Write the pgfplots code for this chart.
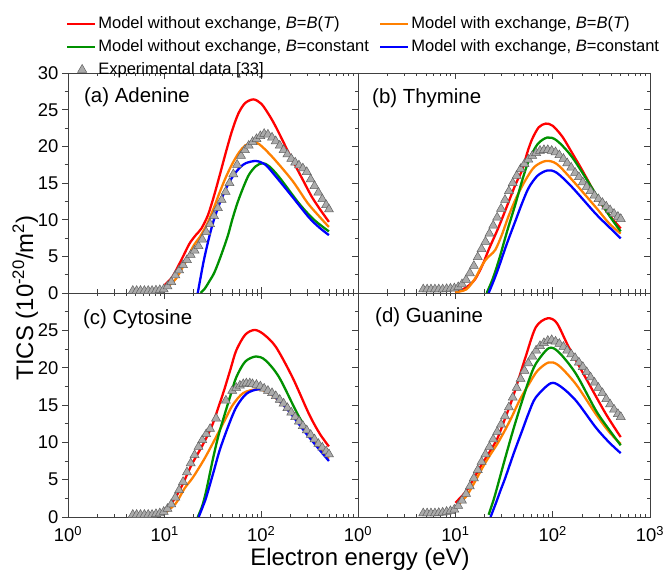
\documentclass[border=0pt]{standalone}
\usepackage{fontspec}
\setmainfont{Liberation Sans}
\usepackage{pgfplots}
\pgfplotsset{compat=1.18}

\definecolor{cred}{RGB}{255,0,0}
\definecolor{corange}{RGB}{255,128,0}
\definecolor{cgreen}{RGB}{0,145,0}
\definecolor{cblue}{RGB}{0,0,255}

\pgfplotsset{
  xmin=1, xmax=1000, ymin=0, ymax=30,
  scale only axis,
  xtick={1,10,100,1000},
  minor xtick={2,3,4,5,6,7,8,9,20,30,40,50,60,70,80,90,200,300,400,500,600,700,800,900},
  ytick={0,5,10,15,20,25,30},
  minor ytick={2.5,7.5,12.5,17.5,22.5,27.5},
  major tick length=6bp, minor tick length=3.5bp,
  axis line style={black!75, line width=0.8bp},
  tick style={black!75, line width=0.8bp},
  tick label style={font=\fontsize{18.5}{20}\selectfont},
  texplegimg/.style={legend image code/.code={\draw[##1] plot coordinates {(15bp,0bp)};}},
  tlinelegimg/.style={legend image code/.code={\draw[##1] (0bp,0bp) -- (28bp,0bp);}},
}
\tikzset{
  tcurve/.style={line width=2.3bp, smooth, mark=none},
  texpm/.style={only marks, mark=triangle*, mark size=5.2bp,
    mark options={fill=black!33, draw=black!62, line width=0.5bp}},
  plab/.style={anchor=west, inner sep=0pt, font=\fontsize{20.5}{22}\selectfont},
}

\begin{document}
\begin{tikzpicture}
\path[use as bounding box] (-68bp,-54bp) rectangle (597bp,517bp);

% ---------- (c) bottom-left ----------
\begin{semilogxaxis}[at={(0bp,0bp)}, anchor=south west, height=224bp, width=290bp,
  tick align=inside, xtick pos=both, ytick pos=right, yticklabels={},
  xticklabel style={yshift=-6bp},
  xticklabels={10\textsuperscript{0},10\textsuperscript{1},10\textsuperscript{2},{}}]
\addplot[texpm] coordinates {(4.68,0.3)(5.13,0.3)(5.62,0.3)(6.17,0.3)(6.76,0.3)(7.41,0.3)(8.13,0.4)(8.91,0.5)(9.77,0.7)(10.7,1.1)(11.7,1.7)(12.9,2.6)(14.1,3.6)(15.5,4.7)(17.0,6.0)(18.6,7.2)(20.4,8.3)(22.4,9.4)(24.5,10.3)(26.9,11.1)(29.5,11.8)(34,13.2)(43,15.6)(50,16.9)(55,17.3)(60,17.6)(65,17.8)(70,17.9)(76,17.9)(81,17.8)(89,17.7)(97.7,17.5)(107,17.2)(117,16.9)(129,16.6)(141,16.2)(155,15.7)(170,15.2)(186,14.6)(204,14.0)(224,13.4)(245,12.8)(269,12.2)(295,11.6)(324,11.0)(355,10.4)(389,9.8)(427,9.3)(468,8.8)(501,8.4)};
\addplot[tcurve, cred] coordinates {(10,0.9)(12,2.0)(13.5,3.0)(15.5,4.5)(19,7.0)(23,8.9)(27,10.6)(31.5,12.5)(36,14.7)(41,16.9)(48,19.8)(55,22.3)(68,24.4)(85,25.05)(105,24.5)(141,22.8)(210,18.7)(311,13.8)(400,11.2)(500,9.45)};
\addplot[tcurve, corange] coordinates {(10,0.5)(13,1.8)(16,3.8)(19.6,5.3)(25,7.5)(29,9.0)(34,10.7)(42,13.0)(50.6,15.0)(65,16.6)(91,17.1)(120,16.6)(178,14.7)(286,11.6)(400,9.2)(500,7.8)};
\addplot[tcurve, cgreen] coordinates {(22,0)(24.5,1.5)(27,3.6)(31.6,7.8)(36,10.9)(41,13.4)(48,16.3)(55,18.7)(68,20.8)(88,21.5)(110,21.0)(153,18.7)(246,13.4)(350,10.5)(500,8.5)};
\addplot[tcurve, cblue] coordinates {(22.5,0)(25,1.5)(27,2.7)(32,6.0)(37,8.9)(45,12.0)(55,14.7)(70,16.5)(93,17.1)(120,16.7)(178,14.7)(286,11.3)(400,9.0)(500,7.5)};
\node[plab] at ([xshift=15bp,yshift=-26bp]rel axis cs:0,1) {(c) Cytosine};
\end{semilogxaxis}
\begin{semilogxaxis}[at={(0bp,0bp)}, anchor=south west, height=224bp, width=290bp,
  hide x axis, tick align=outside, ytick pos=left,
  yticklabels={0,5,10,15,20,25,{}}]
\addplot[draw=none] coordinates {(2,1)};
\end{semilogxaxis}

% ---------- (a) top-left ----------
\begin{semilogxaxis}[at={(0bp,224bp)}, anchor=south west, height=220bp, width=290bp,
  tick align=inside, xtick pos=both, ytick pos=right, yticklabels={}, xticklabels={},
  legend columns=2, legend cell align=left,
  legend style={draw=none, fill=none, inner sep=0pt, outer sep=0pt,
    font=\fontsize{16.6}{18}\selectfont,
    at={(0,1)}, anchor=north west, xshift=-2bp, yshift=58bp,
    /tikz/every even column/.append style={column sep=8bp},
    row sep=5.5bp}]
\addplot[texpm, forget plot] coordinates {(4.68,0.3)(5.13,0.3)(5.62,0.3)(6.17,0.3)(6.76,0.3)(7.41,0.3)(8.13,0.35)(8.91,0.4)(9.77,0.5)(10.7,0.9)(11.7,1.5)(12.9,2.4)(14.1,3.1)(15.5,3.8)(17.0,4.5)(18.6,5.2)(20.4,5.8)(22.4,6.4)(24.5,7.3)(26.9,8.3)(29.5,9.4)(32.4,10.5)(35.5,11.6)(38.9,12.7)(42.7,13.8)(46.8,15.0)(51.3,16.2)(56.2,17.5)(61.7,18.7)(67.6,19.5)(74.1,20.1)(81.3,20.6)(89.1,21.0)(97.7,21.4)(107,21.7)(117,21.6)(129,21.2)(141,20.7)(155,20.1)(170,19.5)(186,18.9)(204,18.3)(224,17.8)(245,17.4)(269,17.0)(295,16.5)(324,15.5)(355,14.6)(389,13.7)(427,12.8)(468,12.0)(501,11.4)};
\addplot[tcurve, cred, tlinelegimg] coordinates {(10,1.1)(12,2.2)(15,4.6)(18,6.7)(21,7.9)(24,8.8)(28,10.6)(32,13.0)(37,16.0)(43,19.2)(50,22.2)(58,24.5)(68,25.9)(83,26.4)(100,25.8)(120,24.3)(142,22.6)(194,19.0)(267,15.5)(330,13.2)(400,11.5)(500,9.7)};
\addlegendentry{Model without exchange, \textit{B}=\textit{B}(\textit{T})}
\addplot[tcurve, corange, tlinelegimg] coordinates {(10,0.5)(13,1.9)(16.7,4.4)(20,6.5)(23,7.6)(27,9.2)(31.6,11.3)(37,13.7)(43,15.8)(50,17.6)(59,19.2)(68,20.1)(80,20.5)(95,20.3)(131,18.5)(210,15.3)(300,12.3)(400,10.4)(500,9.0)};
\addlegendentry{Model with exchange, \textit{B}=\textit{B}(\textit{T})}
\addplot[tcurve, cgreen, tlinelegimg] coordinates {(23.5,0)(26,0.6)(29,1.6)(32.7,2.8)(38,5.0)(45,7.8)(50,10.0)(57,12.4)(66,14.6)(75,16.2)(88,17.3)(103,17.7)(120,17.3)(153,15.8)(246,12.2)(350,10.0)(500,8.4)};
\addlegendentry{Model without exchange, \textit{B}=constant}
\addplot[tcurve, cblue, tlinelegimg] coordinates {(22,0)(25.2,4.2)(28.6,7.4)(32,9.8)(37,12.2)(43,14.2)(50.6,15.9)(60,17.1)(69,17.7)(88,18.0)(110,17.5)(141,15.9)(210,13.1)(311,10.3)(400,8.9)(500,7.9)};
\addlegendentry{Model with exchange, \textit{B}=constant}
\addlegendimage{texpm, texplegimg}
\addlegendentry{Experimental data [33]}
\node[plab] at ([xshift=16bp,yshift=-24bp]rel axis cs:0,1) {(a) Adenine};
\end{semilogxaxis}
\begin{semilogxaxis}[at={(0bp,224bp)}, anchor=south west, height=220bp, width=290bp,
  hide x axis, tick align=outside, ytick pos=left,
  yticklabels={0,5,10,15,20,25,30}]
\addplot[draw=none] coordinates {(2,1)};
\end{semilogxaxis}

% ---------- (d) bottom-right ----------
\begin{semilogxaxis}[at={(290bp,0bp)}, anchor=south west, height=224bp, width=292bp,
  tick align=inside, xtick pos=both, ytick pos=right, yticklabels={},
  xticklabel style={yshift=-6bp},
  xticklabels={10\textsuperscript{0},10\textsuperscript{1},10\textsuperscript{2},10\textsuperscript{3}}]
\addplot[texpm] coordinates {(4.68,0.5)(5.13,0.5)(5.62,0.5)(6.17,0.5)(6.76,0.55)(7.41,0.6)(8.13,0.7)(8.91,0.8)(9.77,1.0)(10.7,1.5)(11.7,2.2)(12.9,3.1)(14.1,4.1)(15.5,5.2)(17.0,6.3)(18.6,7.4)(20.4,8.4)(22.4,9.4)(24.5,10.4)(26.9,11.4)(29.5,12.4)(32.4,13.5)(35.5,14.7)(38.9,16.0)(42.7,17.3)(46.8,18.5)(51.3,19.6)(56.2,20.6)(61.7,21.5)(67.6,22.3)(74.1,22.9)(81.3,23.3)(89.1,23.6)(97.7,23.7)(107,23.5)(117,23.2)(129,22.8)(141,22.3)(155,21.8)(170,21.3)(186,20.7)(204,20.1)(224,19.4)(245,18.7)(269,18.0)(295,17.3)(324,16.6)(355,15.8)(389,15.1)(427,14.4)(468,13.8)(501,13.4)};
\addplot[tcurve, cred] coordinates {(10,1.9)(13,3.5)(16,5.5)(19,7.2)(22,8.5)(27,10.5)(32,13.0)(38,15.6)(45,18.6)(52.6,21.4)(67,25.4)(88,26.6)(110,26.0)(147,22.7)(237,17.8)(352,13.8)(500,10.7)};
\addplot[tcurve, corange] coordinates {(10,1.3)(13,2.8)(16,4.8)(19,6.6)(22,8.0)(27,9.8)(32,11.5)(38,13.4)(46,15.7)(57,17.8)(70,19.6)(91,20.7)(115,20.3)(173,17.8)(277,13.8)(380,11.4)(500,9.8)};
\addplot[tcurve, cgreen] coordinates {(22,0.3)(25,2.5)(28,4.8)(32.7,8.0)(40,12.0)(48.7,15.6)(57,18.3)(67,20.5)(91,22.6)(115,22.1)(173,19.2)(277,14.3)(380,11.7)(500,9.6)};
\addplot[tcurve, cblue] coordinates {(23,0)(26,1.8)(29,3.5)(32.7,5.3)(40,8.6)(48.7,11.6)(57,14.0)(67,16.0)(95,17.9)(120,17.5)(173,15.6)(277,12.0)(380,10.0)(500,8.55)};
\node[plab] at ([xshift=17bp,yshift=-24bp]rel axis cs:0,1) {(d) Guanine};
\end{semilogxaxis}

% ---------- (b) top-right ----------
\begin{semilogxaxis}[at={(290bp,224bp)}, anchor=south west, height=220bp, width=292bp,
  tick align=inside, xtick pos=both, ytick pos=right, yticklabels={}, xticklabels={}]
\addplot[texpm] coordinates {(4.68,0.5)(5.13,0.5)(5.62,0.5)(6.17,0.5)(6.76,0.5)(7.41,0.5)(8.13,0.55)(8.91,0.6)(9.77,0.65)(10.7,0.8)(11.7,1.2)(12.9,1.8)(14.1,2.7)(15.5,3.7)(17.0,4.9)(18.6,6.0)(20.4,7.0)(22.4,8.1)(24.5,9.2)(26.9,10.3)(29.5,11.5)(32.4,12.7)(35.5,13.9)(38.9,15.0)(42.7,16.0)(46.8,16.9)(51.3,17.6)(56.2,18.2)(61.7,18.7)(67.6,19.1)(74.1,19.4)(81.3,19.5)(89.1,19.5)(97.7,19.4)(107,19.2)(117,18.8)(129,18.3)(141,17.7)(155,17.1)(170,16.4)(186,15.8)(204,15.1)(224,14.5)(245,13.9)(269,13.3)(295,12.8)(324,12.3)(355,11.8)(389,11.3)(427,10.8)(468,10.4)(501,10.1)};
\addplot[tcurve, cred] coordinates {(10,0.1)(12,0.5)(14,1.1)(16,1.9)(19,3.8)(22,5.9)(27.9,9.0)(35,12.3)(41.5,14.8)(48.7,16.8)(55,19.2)(61.6,21.0)(72,22.6)(85,23.1)(100,22.8)(126,21.3)(160,19.0)(202,16.7)(300,12.6)(400,10.3)(500,8.8)};
\addplot[tcurve, corange] coordinates {(10,0.1)(13,0.5)(16,2.0)(18,3.3)(20.4,4.5)(23,5.2)(25.8,5.9)(30,7.9)(35.5,10.6)(43,13.2)(52.6,15.4)(65,17.2)(85,18.0)(110,17.6)(159,15.4)(277,11.7)(380,9.5)(500,8.1)};
\addplot[tcurve, cgreen] coordinates {(21,0)(24,1.8)(27.9,4.4)(34,8.4)(41.6,12.2)(49,15.5)(57,18.1)(70,20.3)(88,21.2)(110,20.8)(159,18.5)(277,13.5)(380,10.6)(500,8.4)};
\addplot[tcurve, cblue] coordinates {(22,0)(25,1.8)(27.9,3.5)(34,6.8)(41.6,9.9)(49,12.4)(57,14.4)(70,16.0)(88,16.7)(110,16.4)(159,14.4)(277,10.8)(380,9.0)(500,7.45)};
\node[plab] at ([xshift=14bp,yshift=-25bp]rel axis cs:0,1) {(b) Thymine};
\end{semilogxaxis}

\node[anchor=base, font=\fontsize{24}{26}\selectfont] at (292bp,-48bp) {Electron energy (eV)};
\node[anchor=base, rotate=90, font=\fontsize{24}{26}\selectfont] at (-35bp,219bp) {TICS (10\textsuperscript{-20}/m\textsuperscript{2})};
\end{tikzpicture}
\end{document}
